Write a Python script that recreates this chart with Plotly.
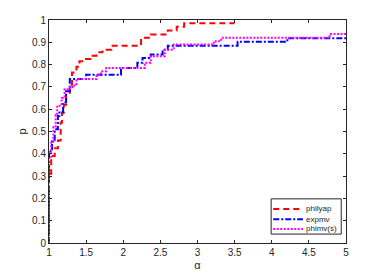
import plotly.graph_objects as go

# philyap (red dashed)
red_alpha = [1, 1, 1.03, 1.077, 1.12, 1.157, 1.175, 1.2, 1.23, 1.28, 1.31, 1.37, 1.41, 1.48,
             1.56, 1.64, 1.72, 1.84, 2.24, 2.37, 2.6, 2.72, 2.82, 3.5]
red_p = [0, 0.31, 0.39, 0.425, 0.46, 0.54, 0.585, 0.62, 0.665, 0.71, 0.765, 0.79, 0.815, 0.825,
         0.84, 0.855, 0.867, 0.885, 0.92, 0.935, 0.953, 0.97, 0.985, 0.985]

# expmv (blue dash-dot)
blue_alpha = [1, 1, 1.02, 1.04, 1.077, 1.12, 1.14, 1.19, 1.23, 1.28, 1.5, 1.97, 2.19, 2.26,
              2.37, 2.53, 2.6, 3.54, 4.21, 5]
blue_p = [0, 0.4, 0.42, 0.455, 0.51, 0.57, 0.585, 0.63, 0.68, 0.735, 0.755, 0.785, 0.808, 0.83,
          0.845, 0.867, 0.885, 0.902, 0.918, 0.918]

# phimv(s) (magenta dotted)
mag_alpha = [1, 1, 1.03, 1.06, 1.09, 1.11, 1.17, 1.21, 1.28, 1.32, 1.37, 1.64, 1.7, 1.77,
             2.29, 2.37, 2.56, 2.68, 3.22, 3.32, 4.78, 5]
mag_p = [0, 0.38, 0.45, 0.52, 0.575, 0.616, 0.65, 0.69, 0.70, 0.706, 0.735, 0.755, 0.77, 0.785,
         0.808, 0.837, 0.867, 0.89, 0.905, 0.92, 0.937, 0.937]

series_names = ["philyap", "expmv", "phimv(s)"]
series_colors = ["#ff0000", "#0000ff", "#ff00ff"]
series_dashes = ["6px,4px", "6px,2px,2px,2px", "2px,1.5px"]

x_ticks = [1, 1.5, 2, 2.5, 3, 3.5, 4, 4.5, 5]
x_tick_labels = ["1", "1.5", "2", "2.5", "3", "3.5", "4", "4.5", "5"]
y_ticks = [0, 0.1, 0.2, 0.3, 0.4, 0.5, 0.6, 0.7, 0.8, 0.9, 1]
y_tick_labels = ["0", "0.1", "0.2", "0.3", "0.4", "0.5", "0.6", "0.7", "0.8", "0.9", "1"]

axis_color = "#262626"
font_family = "Liberation Sans, Arial, sans-serif"

fig = go.Figure()
for xs, ys, name, color, dash in zip([red_alpha, blue_alpha, mag_alpha],
                                     [red_p, blue_p, mag_p],
                                     series_names, series_colors, series_dashes):
    fig.add_trace(go.Scatter(x=xs, y=ys, mode="lines", name=name, line_shape="hv",
                             line=dict(color=color, width=2, dash=dash)))

# compact MATLAB-style legend (box, samples, labels) in paper coordinates
shapes = [dict(type="rect", xref="paper", yref="paper", x0=0.748, x1=0.984, y0=0.040, y1=0.198,
               line=dict(color=axis_color, width=1), fillcolor="white", layer="above")]
annotations = []
entry_y = [0.153, 0.107, 0.063]
for yy, name, color, dash in zip(entry_y, series_names, series_colors, series_dashes):
    shapes.append(dict(type="line", xref="paper", yref="paper", x0=0.755, x1=0.855, y0=yy, y1=yy,
                       line=dict(color=color, width=2, dash=dash), layer="above"))
    annotations.append(dict(xref="paper", yref="paper", x=0.857, y=yy, text=name,
                            showarrow=False, xanchor="left", yanchor="middle",
                            font=dict(size=8, color=axis_color)))

fig.update_layout(
    width=382, height=273,
    margin=dict(l=49, r=36, t=20, b=30),
    paper_bgcolor="white", plot_bgcolor="white",
    font=dict(family=font_family, size=10, color=axis_color),
    showlegend=False,
    shapes=shapes, annotations=annotations,
)
fig.update_xaxes(range=[1, 5], tickvals=x_ticks, ticktext=x_tick_labels, automargin=False,
                 showgrid=False, zeroline=False, showline=True, linecolor=axis_color,
                 linewidth=1, mirror="ticks", ticks="inside", ticklen=3, tickcolor=axis_color,
                 title=dict(text="α", standoff=4, font=dict(size=11)))
fig.update_yaxes(range=[0, 1], tickvals=y_ticks, ticktext=y_tick_labels, automargin=False,
                 showgrid=False, zeroline=False, showline=True, linecolor=axis_color,
                 linewidth=1, mirror="ticks", ticks="inside", ticklen=3, tickcolor=axis_color,
                 title=dict(text="p", standoff=3, font=dict(size=11)))

fig.write_html("out.html", config={"displayModeBar": False},
               post_script="document.body.style.margin='0';")
